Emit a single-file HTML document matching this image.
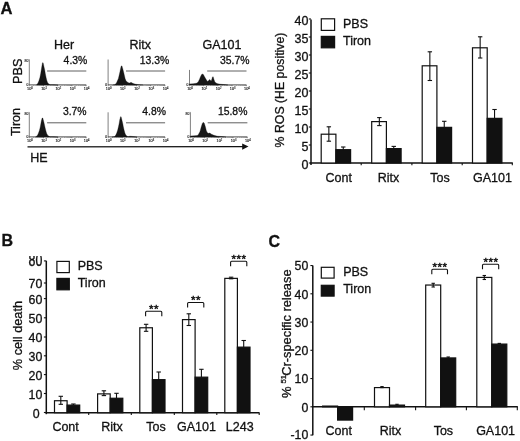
<!DOCTYPE html>
<html lang="en">
<head>
<meta charset="utf-8">
<title>Figure</title>
<style>
html,body{margin:0;padding:0;background:#fff;}
body{width:520px;height:441px;overflow:hidden;}
svg{display:block;will-change:transform;}
svg text{font-family:"Liberation Sans", sans-serif;fill:#111;stroke:#111;stroke-width:0.3px;}
</style>
</head>
<body>
<svg width="520" height="441" viewBox="0 0 520 441">
<rect x="0" y="0" width="520" height="441" fill="#ffffff"/>
<text x="0.4" y="14.1" font-size="16.6" text-anchor="start" font-weight="bold">A</text>
<text x="1.5" y="246" font-size="16" text-anchor="start" font-weight="bold">B</text>
<text x="268.5" y="246.8" font-size="16" text-anchor="start" font-weight="bold">C</text>
<text x="54" y="49" font-size="12.5" text-anchor="start" font-weight="normal">Her</text>
<text x="129.5" y="49" font-size="12.5" text-anchor="start" font-weight="normal">Ritx</text>
<text x="202.5" y="49" font-size="12.5" text-anchor="start" font-weight="normal">GA101</text>
<text x="21.9" y="71.2" font-size="12.7" text-anchor="middle" font-weight="normal" transform="rotate(-90 21.9 71.2)">PBS</text>
<text x="19.9" y="122.0" font-size="12.6" text-anchor="middle" font-weight="normal" transform="rotate(-90 19.9 122.0)">Tiron</text>
<text x="30.3" y="161.8" font-size="12.5" text-anchor="start" font-weight="normal">HE</text>
<line x1="29.3" y1="59.5" x2="29.3" y2="85.0" stroke="#555" stroke-width="0.75"/>
<line x1="29.3" y1="84.9" x2="86.3" y2="84.9" stroke="#2a2a2a" stroke-width="0.85"/>
<line x1="29.3" y1="85.0" x2="29.3" y2="86.2" stroke="#444" stroke-width="0.6"/>
<text x="29.9" y="89.7" font-size="3.8" text-anchor="middle" style="fill:#111;stroke:#111;stroke-width:0.12">10<tspan dy="-1.2" font-size="2.6">0</tspan></text>
<line x1="43.5" y1="85.0" x2="43.5" y2="86.2" stroke="#444" stroke-width="0.6"/>
<text x="44.1" y="89.7" font-size="3.8" text-anchor="middle" style="fill:#111;stroke:#111;stroke-width:0.12">10<tspan dy="-1.2" font-size="2.6">1</tspan></text>
<line x1="57.7" y1="85.0" x2="57.7" y2="86.2" stroke="#444" stroke-width="0.6"/>
<text x="58.3" y="89.7" font-size="3.8" text-anchor="middle" style="fill:#111;stroke:#111;stroke-width:0.12">10<tspan dy="-1.2" font-size="2.6">2</tspan></text>
<line x1="71.9" y1="85.0" x2="71.9" y2="86.2" stroke="#444" stroke-width="0.6"/>
<text x="72.5" y="89.7" font-size="3.8" text-anchor="middle" style="fill:#111;stroke:#111;stroke-width:0.12">10<tspan dy="-1.2" font-size="2.6">3</tspan></text>
<line x1="86.1" y1="85.0" x2="86.1" y2="86.2" stroke="#444" stroke-width="0.6"/>
<text x="86.7" y="89.7" font-size="3.8" text-anchor="middle" style="fill:#111;stroke:#111;stroke-width:0.12">10<tspan dy="-1.2" font-size="2.6">4</tspan></text>
<line x1="33.6" y1="85.0" x2="33.6" y2="85.9" stroke="#555" stroke-width="0.4"/>
<line x1="36.1" y1="85.0" x2="36.1" y2="85.9" stroke="#555" stroke-width="0.4"/>
<line x1="37.8" y1="85.0" x2="37.8" y2="85.9" stroke="#555" stroke-width="0.4"/>
<line x1="39.2" y1="85.0" x2="39.2" y2="85.9" stroke="#555" stroke-width="0.4"/>
<line x1="40.3" y1="85.0" x2="40.3" y2="85.9" stroke="#555" stroke-width="0.4"/>
<line x1="41.3" y1="85.0" x2="41.3" y2="85.9" stroke="#555" stroke-width="0.4"/>
<line x1="42.1" y1="85.0" x2="42.1" y2="85.9" stroke="#555" stroke-width="0.4"/>
<line x1="42.9" y1="85.0" x2="42.9" y2="85.9" stroke="#555" stroke-width="0.4"/>
<line x1="47.8" y1="85.0" x2="47.8" y2="85.9" stroke="#555" stroke-width="0.4"/>
<line x1="50.3" y1="85.0" x2="50.3" y2="85.9" stroke="#555" stroke-width="0.4"/>
<line x1="52.0" y1="85.0" x2="52.0" y2="85.9" stroke="#555" stroke-width="0.4"/>
<line x1="53.4" y1="85.0" x2="53.4" y2="85.9" stroke="#555" stroke-width="0.4"/>
<line x1="54.5" y1="85.0" x2="54.5" y2="85.9" stroke="#555" stroke-width="0.4"/>
<line x1="55.5" y1="85.0" x2="55.5" y2="85.9" stroke="#555" stroke-width="0.4"/>
<line x1="56.3" y1="85.0" x2="56.3" y2="85.9" stroke="#555" stroke-width="0.4"/>
<line x1="57.1" y1="85.0" x2="57.1" y2="85.9" stroke="#555" stroke-width="0.4"/>
<line x1="62.0" y1="85.0" x2="62.0" y2="85.9" stroke="#555" stroke-width="0.4"/>
<line x1="64.5" y1="85.0" x2="64.5" y2="85.9" stroke="#555" stroke-width="0.4"/>
<line x1="66.2" y1="85.0" x2="66.2" y2="85.9" stroke="#555" stroke-width="0.4"/>
<line x1="67.6" y1="85.0" x2="67.6" y2="85.9" stroke="#555" stroke-width="0.4"/>
<line x1="68.7" y1="85.0" x2="68.7" y2="85.9" stroke="#555" stroke-width="0.4"/>
<line x1="69.7" y1="85.0" x2="69.7" y2="85.9" stroke="#555" stroke-width="0.4"/>
<line x1="70.5" y1="85.0" x2="70.5" y2="85.9" stroke="#555" stroke-width="0.4"/>
<line x1="71.3" y1="85.0" x2="71.3" y2="85.9" stroke="#555" stroke-width="0.4"/>
<line x1="76.2" y1="85.0" x2="76.2" y2="85.9" stroke="#555" stroke-width="0.4"/>
<line x1="78.7" y1="85.0" x2="78.7" y2="85.9" stroke="#555" stroke-width="0.4"/>
<line x1="80.4" y1="85.0" x2="80.4" y2="85.9" stroke="#555" stroke-width="0.4"/>
<line x1="81.8" y1="85.0" x2="81.8" y2="85.9" stroke="#555" stroke-width="0.4"/>
<line x1="82.9" y1="85.0" x2="82.9" y2="85.9" stroke="#555" stroke-width="0.4"/>
<line x1="83.9" y1="85.0" x2="83.9" y2="85.9" stroke="#555" stroke-width="0.4"/>
<line x1="84.7" y1="85.0" x2="84.7" y2="85.9" stroke="#555" stroke-width="0.4"/>
<line x1="85.5" y1="85.0" x2="85.5" y2="85.9" stroke="#555" stroke-width="0.4"/>
<text x="28.3" y="62.1" font-size="3.4" text-anchor="end" style="fill:#111;stroke:#111;stroke-width:0.12">80</text>
<text x="28.3" y="86.0" font-size="3.4" text-anchor="end" style="fill:#111;stroke:#111;stroke-width:0.12">0</text>
<line x1="28.5" y1="59.5" x2="29.3" y2="59.5" stroke="#666" stroke-width="0.5"/>
<path d="M36.5 85.0 L36.7 84.7 L37.3 84.0 L38.0 82.9 L38.9 80.8 L39.9 77.5 L40.7 73.5 L41.3 69.8 L41.9 65.9 L42.2 64.3 L42.5 62.8 L43.1 62.8 L43.5 64.3 L43.8 65.9 L44.7 69.8 L45.3 73.5 L46.1 77.5 L46.9 80.8 L47.8 82.9 L48.9 84.0 L50.0 84.7 L54.0 84.7 L58.0 85.0 Z" fill="#161616" stroke="#161616" stroke-width="0.3" stroke-linejoin="round"/>
<line x1="47.1" y1="71.0" x2="86.3" y2="71.0" stroke="#606060" stroke-width="1.0"/>
<text x="87.3" y="63.7" font-size="10.4" text-anchor="end" font-weight="normal">4.3%</text>
<line x1="108.1" y1="59.5" x2="108.1" y2="85.0" stroke="#555" stroke-width="0.75"/>
<line x1="108.1" y1="84.9" x2="165.1" y2="84.9" stroke="#2a2a2a" stroke-width="0.85"/>
<line x1="108.1" y1="85.0" x2="108.1" y2="86.2" stroke="#444" stroke-width="0.6"/>
<text x="108.7" y="89.7" font-size="3.8" text-anchor="middle" style="fill:#111;stroke:#111;stroke-width:0.12">10<tspan dy="-1.2" font-size="2.6">0</tspan></text>
<line x1="122.3" y1="85.0" x2="122.3" y2="86.2" stroke="#444" stroke-width="0.6"/>
<text x="122.9" y="89.7" font-size="3.8" text-anchor="middle" style="fill:#111;stroke:#111;stroke-width:0.12">10<tspan dy="-1.2" font-size="2.6">1</tspan></text>
<line x1="136.5" y1="85.0" x2="136.5" y2="86.2" stroke="#444" stroke-width="0.6"/>
<text x="137.1" y="89.7" font-size="3.8" text-anchor="middle" style="fill:#111;stroke:#111;stroke-width:0.12">10<tspan dy="-1.2" font-size="2.6">2</tspan></text>
<line x1="150.7" y1="85.0" x2="150.7" y2="86.2" stroke="#444" stroke-width="0.6"/>
<text x="151.3" y="89.7" font-size="3.8" text-anchor="middle" style="fill:#111;stroke:#111;stroke-width:0.12">10<tspan dy="-1.2" font-size="2.6">3</tspan></text>
<line x1="164.9" y1="85.0" x2="164.9" y2="86.2" stroke="#444" stroke-width="0.6"/>
<text x="165.5" y="89.7" font-size="3.8" text-anchor="middle" style="fill:#111;stroke:#111;stroke-width:0.12">10<tspan dy="-1.2" font-size="2.6">4</tspan></text>
<line x1="112.4" y1="85.0" x2="112.4" y2="85.9" stroke="#555" stroke-width="0.4"/>
<line x1="114.9" y1="85.0" x2="114.9" y2="85.9" stroke="#555" stroke-width="0.4"/>
<line x1="116.6" y1="85.0" x2="116.6" y2="85.9" stroke="#555" stroke-width="0.4"/>
<line x1="118.0" y1="85.0" x2="118.0" y2="85.9" stroke="#555" stroke-width="0.4"/>
<line x1="119.1" y1="85.0" x2="119.1" y2="85.9" stroke="#555" stroke-width="0.4"/>
<line x1="120.1" y1="85.0" x2="120.1" y2="85.9" stroke="#555" stroke-width="0.4"/>
<line x1="120.9" y1="85.0" x2="120.9" y2="85.9" stroke="#555" stroke-width="0.4"/>
<line x1="121.7" y1="85.0" x2="121.7" y2="85.9" stroke="#555" stroke-width="0.4"/>
<line x1="126.6" y1="85.0" x2="126.6" y2="85.9" stroke="#555" stroke-width="0.4"/>
<line x1="129.1" y1="85.0" x2="129.1" y2="85.9" stroke="#555" stroke-width="0.4"/>
<line x1="130.8" y1="85.0" x2="130.8" y2="85.9" stroke="#555" stroke-width="0.4"/>
<line x1="132.2" y1="85.0" x2="132.2" y2="85.9" stroke="#555" stroke-width="0.4"/>
<line x1="133.3" y1="85.0" x2="133.3" y2="85.9" stroke="#555" stroke-width="0.4"/>
<line x1="134.3" y1="85.0" x2="134.3" y2="85.9" stroke="#555" stroke-width="0.4"/>
<line x1="135.1" y1="85.0" x2="135.1" y2="85.9" stroke="#555" stroke-width="0.4"/>
<line x1="135.9" y1="85.0" x2="135.9" y2="85.9" stroke="#555" stroke-width="0.4"/>
<line x1="140.8" y1="85.0" x2="140.8" y2="85.9" stroke="#555" stroke-width="0.4"/>
<line x1="143.3" y1="85.0" x2="143.3" y2="85.9" stroke="#555" stroke-width="0.4"/>
<line x1="145.0" y1="85.0" x2="145.0" y2="85.9" stroke="#555" stroke-width="0.4"/>
<line x1="146.4" y1="85.0" x2="146.4" y2="85.9" stroke="#555" stroke-width="0.4"/>
<line x1="147.5" y1="85.0" x2="147.5" y2="85.9" stroke="#555" stroke-width="0.4"/>
<line x1="148.5" y1="85.0" x2="148.5" y2="85.9" stroke="#555" stroke-width="0.4"/>
<line x1="149.3" y1="85.0" x2="149.3" y2="85.9" stroke="#555" stroke-width="0.4"/>
<line x1="150.1" y1="85.0" x2="150.1" y2="85.9" stroke="#555" stroke-width="0.4"/>
<line x1="155.0" y1="85.0" x2="155.0" y2="85.9" stroke="#555" stroke-width="0.4"/>
<line x1="157.5" y1="85.0" x2="157.5" y2="85.9" stroke="#555" stroke-width="0.4"/>
<line x1="159.2" y1="85.0" x2="159.2" y2="85.9" stroke="#555" stroke-width="0.4"/>
<line x1="160.6" y1="85.0" x2="160.6" y2="85.9" stroke="#555" stroke-width="0.4"/>
<line x1="161.7" y1="85.0" x2="161.7" y2="85.9" stroke="#555" stroke-width="0.4"/>
<line x1="162.7" y1="85.0" x2="162.7" y2="85.9" stroke="#555" stroke-width="0.4"/>
<line x1="163.5" y1="85.0" x2="163.5" y2="85.9" stroke="#555" stroke-width="0.4"/>
<line x1="164.3" y1="85.0" x2="164.3" y2="85.9" stroke="#555" stroke-width="0.4"/>
<text x="107.1" y="86.0" font-size="3.4" text-anchor="end" style="fill:#111;stroke:#111;stroke-width:0.12">0</text>
<path d="M113.0 85.0 L114.8 84.7 L115.4 84.1 L116.3 83.2 L117.2 81.3 L118.4 78.5 L119.2 75.1 L119.9 71.9 L120.6 68.5 L120.9 67.2 L121.3 65.9 L122.0 65.9 L122.3 67.2 L122.7 68.5 L123.6 71.9 L124.3 75.1 L125.1 78.5 L126.0 80.8 L127.2 82.0 L128.5 82.7 L129.8 83.0 L131.0 82.3 L132.2 83.0 L134.0 83.8 L136.0 84.3 L139.0 84.7 L143.0 85.0 Z" fill="#161616" stroke="#161616" stroke-width="0.3" stroke-linejoin="round"/>
<line x1="126" y1="71.0" x2="165.1" y2="71.0" stroke="#606060" stroke-width="1.0"/>
<text x="169.2" y="63.7" font-size="10.4" text-anchor="end" font-weight="normal">13.3%</text>
<line x1="189.5" y1="69.9" x2="189.5" y2="85.0" stroke="#555" stroke-width="0.75"/>
<line x1="189.5" y1="84.9" x2="246.5" y2="84.9" stroke="#2a2a2a" stroke-width="0.85"/>
<line x1="189.5" y1="85.0" x2="189.5" y2="86.2" stroke="#444" stroke-width="0.6"/>
<text x="190.1" y="89.7" font-size="3.8" text-anchor="middle" style="fill:#111;stroke:#111;stroke-width:0.12">10<tspan dy="-1.2" font-size="2.6">0</tspan></text>
<line x1="203.7" y1="85.0" x2="203.7" y2="86.2" stroke="#444" stroke-width="0.6"/>
<text x="204.3" y="89.7" font-size="3.8" text-anchor="middle" style="fill:#111;stroke:#111;stroke-width:0.12">10<tspan dy="-1.2" font-size="2.6">1</tspan></text>
<line x1="217.9" y1="85.0" x2="217.9" y2="86.2" stroke="#444" stroke-width="0.6"/>
<text x="218.5" y="89.7" font-size="3.8" text-anchor="middle" style="fill:#111;stroke:#111;stroke-width:0.12">10<tspan dy="-1.2" font-size="2.6">2</tspan></text>
<line x1="232.1" y1="85.0" x2="232.1" y2="86.2" stroke="#444" stroke-width="0.6"/>
<text x="232.7" y="89.7" font-size="3.8" text-anchor="middle" style="fill:#111;stroke:#111;stroke-width:0.12">10<tspan dy="-1.2" font-size="2.6">3</tspan></text>
<line x1="246.3" y1="85.0" x2="246.3" y2="86.2" stroke="#444" stroke-width="0.6"/>
<text x="246.9" y="89.7" font-size="3.8" text-anchor="middle" style="fill:#111;stroke:#111;stroke-width:0.12">10<tspan dy="-1.2" font-size="2.6">4</tspan></text>
<line x1="193.8" y1="85.0" x2="193.8" y2="85.9" stroke="#555" stroke-width="0.4"/>
<line x1="196.3" y1="85.0" x2="196.3" y2="85.9" stroke="#555" stroke-width="0.4"/>
<line x1="198.0" y1="85.0" x2="198.0" y2="85.9" stroke="#555" stroke-width="0.4"/>
<line x1="199.4" y1="85.0" x2="199.4" y2="85.9" stroke="#555" stroke-width="0.4"/>
<line x1="200.5" y1="85.0" x2="200.5" y2="85.9" stroke="#555" stroke-width="0.4"/>
<line x1="201.5" y1="85.0" x2="201.5" y2="85.9" stroke="#555" stroke-width="0.4"/>
<line x1="202.3" y1="85.0" x2="202.3" y2="85.9" stroke="#555" stroke-width="0.4"/>
<line x1="203.1" y1="85.0" x2="203.1" y2="85.9" stroke="#555" stroke-width="0.4"/>
<line x1="208.0" y1="85.0" x2="208.0" y2="85.9" stroke="#555" stroke-width="0.4"/>
<line x1="210.5" y1="85.0" x2="210.5" y2="85.9" stroke="#555" stroke-width="0.4"/>
<line x1="212.2" y1="85.0" x2="212.2" y2="85.9" stroke="#555" stroke-width="0.4"/>
<line x1="213.6" y1="85.0" x2="213.6" y2="85.9" stroke="#555" stroke-width="0.4"/>
<line x1="214.7" y1="85.0" x2="214.7" y2="85.9" stroke="#555" stroke-width="0.4"/>
<line x1="215.7" y1="85.0" x2="215.7" y2="85.9" stroke="#555" stroke-width="0.4"/>
<line x1="216.5" y1="85.0" x2="216.5" y2="85.9" stroke="#555" stroke-width="0.4"/>
<line x1="217.3" y1="85.0" x2="217.3" y2="85.9" stroke="#555" stroke-width="0.4"/>
<line x1="222.2" y1="85.0" x2="222.2" y2="85.9" stroke="#555" stroke-width="0.4"/>
<line x1="224.7" y1="85.0" x2="224.7" y2="85.9" stroke="#555" stroke-width="0.4"/>
<line x1="226.4" y1="85.0" x2="226.4" y2="85.9" stroke="#555" stroke-width="0.4"/>
<line x1="227.8" y1="85.0" x2="227.8" y2="85.9" stroke="#555" stroke-width="0.4"/>
<line x1="228.9" y1="85.0" x2="228.9" y2="85.9" stroke="#555" stroke-width="0.4"/>
<line x1="229.9" y1="85.0" x2="229.9" y2="85.9" stroke="#555" stroke-width="0.4"/>
<line x1="230.7" y1="85.0" x2="230.7" y2="85.9" stroke="#555" stroke-width="0.4"/>
<line x1="231.5" y1="85.0" x2="231.5" y2="85.9" stroke="#555" stroke-width="0.4"/>
<line x1="236.4" y1="85.0" x2="236.4" y2="85.9" stroke="#555" stroke-width="0.4"/>
<line x1="238.9" y1="85.0" x2="238.9" y2="85.9" stroke="#555" stroke-width="0.4"/>
<line x1="240.6" y1="85.0" x2="240.6" y2="85.9" stroke="#555" stroke-width="0.4"/>
<line x1="242.0" y1="85.0" x2="242.0" y2="85.9" stroke="#555" stroke-width="0.4"/>
<line x1="243.1" y1="85.0" x2="243.1" y2="85.9" stroke="#555" stroke-width="0.4"/>
<line x1="244.1" y1="85.0" x2="244.1" y2="85.9" stroke="#555" stroke-width="0.4"/>
<line x1="244.9" y1="85.0" x2="244.9" y2="85.9" stroke="#555" stroke-width="0.4"/>
<line x1="245.7" y1="85.0" x2="245.7" y2="85.9" stroke="#555" stroke-width="0.4"/>
<text x="188.5" y="86.0" font-size="3.4" text-anchor="end" style="fill:#111;stroke:#111;stroke-width:0.12">0</text>
<path d="M189.5 85.0 L189.5 83.9 L193.0 83.7 L196.3 83.3 L198.0 82.2 L199.4 79.5 L200.6 76.4 L201.6 74.5 L202.5 74.0 L203.4 74.6 L204.4 76.4 L205.6 78.6 L206.8 80.6 L207.8 81.5 L208.8 80.3 L209.8 79.4 L210.6 80.4 L211.2 81.0 L211.9 79.0 L212.5 76.9 L213.2 76.8 L213.9 79.3 L214.8 81.8 L216.0 83.0 L217.8 83.7 L220.5 84.2 L224.0 84.6 L228.0 85.0 Z" fill="#161616" stroke="#161616" stroke-width="0.3" stroke-linejoin="round"/>
<line x1="207.2" y1="71.0" x2="246.5" y2="71.0" stroke="#606060" stroke-width="1.0"/>
<text x="249.5" y="63.7" font-size="10.4" text-anchor="end" font-weight="normal">35.7%</text>
<line x1="29.3" y1="112.3" x2="29.3" y2="137.0" stroke="#555" stroke-width="0.75"/>
<line x1="29.3" y1="136.9" x2="86.3" y2="136.9" stroke="#2a2a2a" stroke-width="0.85"/>
<line x1="29.3" y1="137.0" x2="29.3" y2="138.2" stroke="#444" stroke-width="0.6"/>
<text x="29.9" y="141.7" font-size="3.8" text-anchor="middle" style="fill:#111;stroke:#111;stroke-width:0.12">10<tspan dy="-1.2" font-size="2.6">0</tspan></text>
<line x1="43.5" y1="137.0" x2="43.5" y2="138.2" stroke="#444" stroke-width="0.6"/>
<text x="44.1" y="141.7" font-size="3.8" text-anchor="middle" style="fill:#111;stroke:#111;stroke-width:0.12">10<tspan dy="-1.2" font-size="2.6">1</tspan></text>
<line x1="57.7" y1="137.0" x2="57.7" y2="138.2" stroke="#444" stroke-width="0.6"/>
<text x="58.3" y="141.7" font-size="3.8" text-anchor="middle" style="fill:#111;stroke:#111;stroke-width:0.12">10<tspan dy="-1.2" font-size="2.6">2</tspan></text>
<line x1="71.9" y1="137.0" x2="71.9" y2="138.2" stroke="#444" stroke-width="0.6"/>
<text x="72.5" y="141.7" font-size="3.8" text-anchor="middle" style="fill:#111;stroke:#111;stroke-width:0.12">10<tspan dy="-1.2" font-size="2.6">3</tspan></text>
<line x1="86.1" y1="137.0" x2="86.1" y2="138.2" stroke="#444" stroke-width="0.6"/>
<text x="86.7" y="141.7" font-size="3.8" text-anchor="middle" style="fill:#111;stroke:#111;stroke-width:0.12">10<tspan dy="-1.2" font-size="2.6">4</tspan></text>
<line x1="33.6" y1="137.0" x2="33.6" y2="137.9" stroke="#555" stroke-width="0.4"/>
<line x1="36.1" y1="137.0" x2="36.1" y2="137.9" stroke="#555" stroke-width="0.4"/>
<line x1="37.8" y1="137.0" x2="37.8" y2="137.9" stroke="#555" stroke-width="0.4"/>
<line x1="39.2" y1="137.0" x2="39.2" y2="137.9" stroke="#555" stroke-width="0.4"/>
<line x1="40.3" y1="137.0" x2="40.3" y2="137.9" stroke="#555" stroke-width="0.4"/>
<line x1="41.3" y1="137.0" x2="41.3" y2="137.9" stroke="#555" stroke-width="0.4"/>
<line x1="42.1" y1="137.0" x2="42.1" y2="137.9" stroke="#555" stroke-width="0.4"/>
<line x1="42.9" y1="137.0" x2="42.9" y2="137.9" stroke="#555" stroke-width="0.4"/>
<line x1="47.8" y1="137.0" x2="47.8" y2="137.9" stroke="#555" stroke-width="0.4"/>
<line x1="50.3" y1="137.0" x2="50.3" y2="137.9" stroke="#555" stroke-width="0.4"/>
<line x1="52.0" y1="137.0" x2="52.0" y2="137.9" stroke="#555" stroke-width="0.4"/>
<line x1="53.4" y1="137.0" x2="53.4" y2="137.9" stroke="#555" stroke-width="0.4"/>
<line x1="54.5" y1="137.0" x2="54.5" y2="137.9" stroke="#555" stroke-width="0.4"/>
<line x1="55.5" y1="137.0" x2="55.5" y2="137.9" stroke="#555" stroke-width="0.4"/>
<line x1="56.3" y1="137.0" x2="56.3" y2="137.9" stroke="#555" stroke-width="0.4"/>
<line x1="57.1" y1="137.0" x2="57.1" y2="137.9" stroke="#555" stroke-width="0.4"/>
<line x1="62.0" y1="137.0" x2="62.0" y2="137.9" stroke="#555" stroke-width="0.4"/>
<line x1="64.5" y1="137.0" x2="64.5" y2="137.9" stroke="#555" stroke-width="0.4"/>
<line x1="66.2" y1="137.0" x2="66.2" y2="137.9" stroke="#555" stroke-width="0.4"/>
<line x1="67.6" y1="137.0" x2="67.6" y2="137.9" stroke="#555" stroke-width="0.4"/>
<line x1="68.7" y1="137.0" x2="68.7" y2="137.9" stroke="#555" stroke-width="0.4"/>
<line x1="69.7" y1="137.0" x2="69.7" y2="137.9" stroke="#555" stroke-width="0.4"/>
<line x1="70.5" y1="137.0" x2="70.5" y2="137.9" stroke="#555" stroke-width="0.4"/>
<line x1="71.3" y1="137.0" x2="71.3" y2="137.9" stroke="#555" stroke-width="0.4"/>
<line x1="76.2" y1="137.0" x2="76.2" y2="137.9" stroke="#555" stroke-width="0.4"/>
<line x1="78.7" y1="137.0" x2="78.7" y2="137.9" stroke="#555" stroke-width="0.4"/>
<line x1="80.4" y1="137.0" x2="80.4" y2="137.9" stroke="#555" stroke-width="0.4"/>
<line x1="81.8" y1="137.0" x2="81.8" y2="137.9" stroke="#555" stroke-width="0.4"/>
<line x1="82.9" y1="137.0" x2="82.9" y2="137.9" stroke="#555" stroke-width="0.4"/>
<line x1="83.9" y1="137.0" x2="83.9" y2="137.9" stroke="#555" stroke-width="0.4"/>
<line x1="84.7" y1="137.0" x2="84.7" y2="137.9" stroke="#555" stroke-width="0.4"/>
<line x1="85.5" y1="137.0" x2="85.5" y2="137.9" stroke="#555" stroke-width="0.4"/>
<text x="28.3" y="114.9" font-size="3.4" text-anchor="end" style="fill:#111;stroke:#111;stroke-width:0.12">80</text>
<text x="28.3" y="138.0" font-size="3.4" text-anchor="end" style="fill:#111;stroke:#111;stroke-width:0.12">0</text>
<line x1="28.5" y1="112.3" x2="29.3" y2="112.3" stroke="#666" stroke-width="0.5"/>
<path d="M35.5 137.0 L36.1 136.7 L36.7 136.1 L37.5 135.2 L38.4 133.3 L39.4 130.5 L40.2 127.2 L40.8 124.0 L41.4 120.6 L41.8 119.3 L42.1 118.0 L42.8 118.0 L43.1 119.3 L43.5 120.6 L44.3 124.0 L45.0 127.2 L45.8 130.5 L46.6 133.3 L47.6 135.2 L48.7 136.1 L49.9 136.7 L54.0 136.7 L58.0 137.0 Z" fill="#161616" stroke="#161616" stroke-width="0.3" stroke-linejoin="round"/>
<line x1="47.1" y1="122.8" x2="86.3" y2="122.8" stroke="#606060" stroke-width="1.0"/>
<text x="86.6" y="115.4" font-size="10.4" text-anchor="end" font-weight="normal">3.7%</text>
<line x1="108.1" y1="112.3" x2="108.1" y2="137.0" stroke="#555" stroke-width="0.75"/>
<line x1="108.1" y1="136.9" x2="165.1" y2="136.9" stroke="#2a2a2a" stroke-width="0.85"/>
<line x1="108.1" y1="137.0" x2="108.1" y2="138.2" stroke="#444" stroke-width="0.6"/>
<text x="108.7" y="141.7" font-size="3.8" text-anchor="middle" style="fill:#111;stroke:#111;stroke-width:0.12">10<tspan dy="-1.2" font-size="2.6">0</tspan></text>
<line x1="122.3" y1="137.0" x2="122.3" y2="138.2" stroke="#444" stroke-width="0.6"/>
<text x="122.9" y="141.7" font-size="3.8" text-anchor="middle" style="fill:#111;stroke:#111;stroke-width:0.12">10<tspan dy="-1.2" font-size="2.6">1</tspan></text>
<line x1="136.5" y1="137.0" x2="136.5" y2="138.2" stroke="#444" stroke-width="0.6"/>
<text x="137.1" y="141.7" font-size="3.8" text-anchor="middle" style="fill:#111;stroke:#111;stroke-width:0.12">10<tspan dy="-1.2" font-size="2.6">2</tspan></text>
<line x1="150.7" y1="137.0" x2="150.7" y2="138.2" stroke="#444" stroke-width="0.6"/>
<text x="151.3" y="141.7" font-size="3.8" text-anchor="middle" style="fill:#111;stroke:#111;stroke-width:0.12">10<tspan dy="-1.2" font-size="2.6">3</tspan></text>
<line x1="164.9" y1="137.0" x2="164.9" y2="138.2" stroke="#444" stroke-width="0.6"/>
<text x="165.5" y="141.7" font-size="3.8" text-anchor="middle" style="fill:#111;stroke:#111;stroke-width:0.12">10<tspan dy="-1.2" font-size="2.6">4</tspan></text>
<line x1="112.4" y1="137.0" x2="112.4" y2="137.9" stroke="#555" stroke-width="0.4"/>
<line x1="114.9" y1="137.0" x2="114.9" y2="137.9" stroke="#555" stroke-width="0.4"/>
<line x1="116.6" y1="137.0" x2="116.6" y2="137.9" stroke="#555" stroke-width="0.4"/>
<line x1="118.0" y1="137.0" x2="118.0" y2="137.9" stroke="#555" stroke-width="0.4"/>
<line x1="119.1" y1="137.0" x2="119.1" y2="137.9" stroke="#555" stroke-width="0.4"/>
<line x1="120.1" y1="137.0" x2="120.1" y2="137.9" stroke="#555" stroke-width="0.4"/>
<line x1="120.9" y1="137.0" x2="120.9" y2="137.9" stroke="#555" stroke-width="0.4"/>
<line x1="121.7" y1="137.0" x2="121.7" y2="137.9" stroke="#555" stroke-width="0.4"/>
<line x1="126.6" y1="137.0" x2="126.6" y2="137.9" stroke="#555" stroke-width="0.4"/>
<line x1="129.1" y1="137.0" x2="129.1" y2="137.9" stroke="#555" stroke-width="0.4"/>
<line x1="130.8" y1="137.0" x2="130.8" y2="137.9" stroke="#555" stroke-width="0.4"/>
<line x1="132.2" y1="137.0" x2="132.2" y2="137.9" stroke="#555" stroke-width="0.4"/>
<line x1="133.3" y1="137.0" x2="133.3" y2="137.9" stroke="#555" stroke-width="0.4"/>
<line x1="134.3" y1="137.0" x2="134.3" y2="137.9" stroke="#555" stroke-width="0.4"/>
<line x1="135.1" y1="137.0" x2="135.1" y2="137.9" stroke="#555" stroke-width="0.4"/>
<line x1="135.9" y1="137.0" x2="135.9" y2="137.9" stroke="#555" stroke-width="0.4"/>
<line x1="140.8" y1="137.0" x2="140.8" y2="137.9" stroke="#555" stroke-width="0.4"/>
<line x1="143.3" y1="137.0" x2="143.3" y2="137.9" stroke="#555" stroke-width="0.4"/>
<line x1="145.0" y1="137.0" x2="145.0" y2="137.9" stroke="#555" stroke-width="0.4"/>
<line x1="146.4" y1="137.0" x2="146.4" y2="137.9" stroke="#555" stroke-width="0.4"/>
<line x1="147.5" y1="137.0" x2="147.5" y2="137.9" stroke="#555" stroke-width="0.4"/>
<line x1="148.5" y1="137.0" x2="148.5" y2="137.9" stroke="#555" stroke-width="0.4"/>
<line x1="149.3" y1="137.0" x2="149.3" y2="137.9" stroke="#555" stroke-width="0.4"/>
<line x1="150.1" y1="137.0" x2="150.1" y2="137.9" stroke="#555" stroke-width="0.4"/>
<line x1="155.0" y1="137.0" x2="155.0" y2="137.9" stroke="#555" stroke-width="0.4"/>
<line x1="157.5" y1="137.0" x2="157.5" y2="137.9" stroke="#555" stroke-width="0.4"/>
<line x1="159.2" y1="137.0" x2="159.2" y2="137.9" stroke="#555" stroke-width="0.4"/>
<line x1="160.6" y1="137.0" x2="160.6" y2="137.9" stroke="#555" stroke-width="0.4"/>
<line x1="161.7" y1="137.0" x2="161.7" y2="137.9" stroke="#555" stroke-width="0.4"/>
<line x1="162.7" y1="137.0" x2="162.7" y2="137.9" stroke="#555" stroke-width="0.4"/>
<line x1="163.5" y1="137.0" x2="163.5" y2="137.9" stroke="#555" stroke-width="0.4"/>
<line x1="164.3" y1="137.0" x2="164.3" y2="137.9" stroke="#555" stroke-width="0.4"/>
<text x="107.1" y="138.0" font-size="3.4" text-anchor="end" style="fill:#111;stroke:#111;stroke-width:0.12">0</text>
<path d="M112.0 137.0 L114.3 136.7 L115.0 136.1 L115.8 135.1 L116.7 133.1 L117.7 130.1 L118.5 126.6 L119.2 123.2 L119.8 119.6 L120.2 118.2 L120.5 116.8 L121.1 116.8 L121.5 118.2 L121.8 119.6 L122.7 123.2 L123.3 126.6 L124.1 130.1 L124.9 133.1 L125.8 135.1 L126.9 136.1 L128.0 136.7 L130.0 136.2 L133.0 136.5 L137.0 137.0 Z" fill="#161616" stroke="#161616" stroke-width="0.3" stroke-linejoin="round"/>
<line x1="126" y1="122.8" x2="165.1" y2="122.8" stroke="#606060" stroke-width="1.0"/>
<text x="166" y="115.4" font-size="10.4" text-anchor="end" font-weight="normal">4.8%</text>
<line x1="190.4" y1="112.3" x2="190.4" y2="137.0" stroke="#555" stroke-width="0.75"/>
<line x1="190.4" y1="136.9" x2="247.4" y2="136.9" stroke="#2a2a2a" stroke-width="0.85"/>
<line x1="190.4" y1="137.0" x2="190.4" y2="138.2" stroke="#444" stroke-width="0.6"/>
<text x="191.0" y="141.7" font-size="3.8" text-anchor="middle" style="fill:#111;stroke:#111;stroke-width:0.12">10<tspan dy="-1.2" font-size="2.6">0</tspan></text>
<line x1="204.6" y1="137.0" x2="204.6" y2="138.2" stroke="#444" stroke-width="0.6"/>
<text x="205.2" y="141.7" font-size="3.8" text-anchor="middle" style="fill:#111;stroke:#111;stroke-width:0.12">10<tspan dy="-1.2" font-size="2.6">1</tspan></text>
<line x1="218.8" y1="137.0" x2="218.8" y2="138.2" stroke="#444" stroke-width="0.6"/>
<text x="219.4" y="141.7" font-size="3.8" text-anchor="middle" style="fill:#111;stroke:#111;stroke-width:0.12">10<tspan dy="-1.2" font-size="2.6">2</tspan></text>
<line x1="233.0" y1="137.0" x2="233.0" y2="138.2" stroke="#444" stroke-width="0.6"/>
<text x="233.6" y="141.7" font-size="3.8" text-anchor="middle" style="fill:#111;stroke:#111;stroke-width:0.12">10<tspan dy="-1.2" font-size="2.6">3</tspan></text>
<line x1="247.2" y1="137.0" x2="247.2" y2="138.2" stroke="#444" stroke-width="0.6"/>
<text x="247.8" y="141.7" font-size="3.8" text-anchor="middle" style="fill:#111;stroke:#111;stroke-width:0.12">10<tspan dy="-1.2" font-size="2.6">4</tspan></text>
<line x1="194.7" y1="137.0" x2="194.7" y2="137.9" stroke="#555" stroke-width="0.4"/>
<line x1="197.2" y1="137.0" x2="197.2" y2="137.9" stroke="#555" stroke-width="0.4"/>
<line x1="198.9" y1="137.0" x2="198.9" y2="137.9" stroke="#555" stroke-width="0.4"/>
<line x1="200.3" y1="137.0" x2="200.3" y2="137.9" stroke="#555" stroke-width="0.4"/>
<line x1="201.4" y1="137.0" x2="201.4" y2="137.9" stroke="#555" stroke-width="0.4"/>
<line x1="202.4" y1="137.0" x2="202.4" y2="137.9" stroke="#555" stroke-width="0.4"/>
<line x1="203.2" y1="137.0" x2="203.2" y2="137.9" stroke="#555" stroke-width="0.4"/>
<line x1="204.0" y1="137.0" x2="204.0" y2="137.9" stroke="#555" stroke-width="0.4"/>
<line x1="208.9" y1="137.0" x2="208.9" y2="137.9" stroke="#555" stroke-width="0.4"/>
<line x1="211.4" y1="137.0" x2="211.4" y2="137.9" stroke="#555" stroke-width="0.4"/>
<line x1="213.1" y1="137.0" x2="213.1" y2="137.9" stroke="#555" stroke-width="0.4"/>
<line x1="214.5" y1="137.0" x2="214.5" y2="137.9" stroke="#555" stroke-width="0.4"/>
<line x1="215.6" y1="137.0" x2="215.6" y2="137.9" stroke="#555" stroke-width="0.4"/>
<line x1="216.6" y1="137.0" x2="216.6" y2="137.9" stroke="#555" stroke-width="0.4"/>
<line x1="217.4" y1="137.0" x2="217.4" y2="137.9" stroke="#555" stroke-width="0.4"/>
<line x1="218.2" y1="137.0" x2="218.2" y2="137.9" stroke="#555" stroke-width="0.4"/>
<line x1="223.1" y1="137.0" x2="223.1" y2="137.9" stroke="#555" stroke-width="0.4"/>
<line x1="225.6" y1="137.0" x2="225.6" y2="137.9" stroke="#555" stroke-width="0.4"/>
<line x1="227.3" y1="137.0" x2="227.3" y2="137.9" stroke="#555" stroke-width="0.4"/>
<line x1="228.7" y1="137.0" x2="228.7" y2="137.9" stroke="#555" stroke-width="0.4"/>
<line x1="229.8" y1="137.0" x2="229.8" y2="137.9" stroke="#555" stroke-width="0.4"/>
<line x1="230.8" y1="137.0" x2="230.8" y2="137.9" stroke="#555" stroke-width="0.4"/>
<line x1="231.6" y1="137.0" x2="231.6" y2="137.9" stroke="#555" stroke-width="0.4"/>
<line x1="232.4" y1="137.0" x2="232.4" y2="137.9" stroke="#555" stroke-width="0.4"/>
<line x1="237.3" y1="137.0" x2="237.3" y2="137.9" stroke="#555" stroke-width="0.4"/>
<line x1="239.8" y1="137.0" x2="239.8" y2="137.9" stroke="#555" stroke-width="0.4"/>
<line x1="241.5" y1="137.0" x2="241.5" y2="137.9" stroke="#555" stroke-width="0.4"/>
<line x1="242.9" y1="137.0" x2="242.9" y2="137.9" stroke="#555" stroke-width="0.4"/>
<line x1="244.0" y1="137.0" x2="244.0" y2="137.9" stroke="#555" stroke-width="0.4"/>
<line x1="245.0" y1="137.0" x2="245.0" y2="137.9" stroke="#555" stroke-width="0.4"/>
<line x1="245.8" y1="137.0" x2="245.8" y2="137.9" stroke="#555" stroke-width="0.4"/>
<line x1="246.6" y1="137.0" x2="246.6" y2="137.9" stroke="#555" stroke-width="0.4"/>
<text x="189.4" y="114.9" font-size="3.4" text-anchor="end" style="fill:#111;stroke:#111;stroke-width:0.12">80</text>
<text x="189.4" y="138.0" font-size="3.4" text-anchor="end" style="fill:#111;stroke:#111;stroke-width:0.12">0</text>
<line x1="189.6" y1="112.3" x2="190.4" y2="112.3" stroke="#666" stroke-width="0.5"/>
<path d="M190.4 137.0 L190.4 136.0 L194.0 135.8 L197.3 135.4 L198.6 134.2 L200.0 131.4 L201.2 127.0 L202.3 123.4 L203.3 122.2 L204.3 123.2 L205.4 126.8 L206.3 130.4 L207.2 132.4 L208.3 133.3 L209.8 133.0 L211.5 134.2 L214.0 135.3 L217.5 136.2 L222.0 136.6 L226.0 137.0 Z" fill="#161616" stroke="#161616" stroke-width="0.3" stroke-linejoin="round"/>
<line x1="207.7" y1="122.8" x2="247.4" y2="122.8" stroke="#606060" stroke-width="1.0"/>
<text x="247.4" y="115.4" font-size="10.4" text-anchor="end" font-weight="normal">15.8%</text>
<line x1="27.5" y1="146.9" x2="243.5" y2="146.5" stroke="#111" stroke-width="1.25"/>
<path d="M242.2 143.5 L248.5 146.6 L242.2 149.7 Z" fill="#111"/>
<line x1="311" y1="19.5" x2="311" y2="165" stroke="#111" stroke-width="1.5"/>
<line x1="310.3" y1="163" x2="512.8" y2="163" stroke="#111" stroke-width="1.5"/>
<line x1="308.8" y1="163.0" x2="311" y2="163.0" stroke="#111" stroke-width="1.1"/>
<text x="308.4" y="168.7" font-size="12.5" text-anchor="end" font-weight="normal">0</text>
<line x1="308.8" y1="145.0" x2="311" y2="145.0" stroke="#111" stroke-width="1.1"/>
<text x="308.4" y="150.7" font-size="12.5" text-anchor="end" font-weight="normal">5</text>
<line x1="308.8" y1="127.0" x2="311" y2="127.0" stroke="#111" stroke-width="1.1"/>
<text x="308.4" y="132.7" font-size="12.5" text-anchor="end" font-weight="normal">10</text>
<line x1="308.8" y1="109.0" x2="311" y2="109.0" stroke="#111" stroke-width="1.1"/>
<text x="308.4" y="114.7" font-size="12.5" text-anchor="end" font-weight="normal">15</text>
<line x1="308.8" y1="91.0" x2="311" y2="91.0" stroke="#111" stroke-width="1.1"/>
<text x="308.4" y="96.7" font-size="12.5" text-anchor="end" font-weight="normal">20</text>
<line x1="308.8" y1="73.0" x2="311" y2="73.0" stroke="#111" stroke-width="1.1"/>
<text x="308.4" y="78.7" font-size="12.5" text-anchor="end" font-weight="normal">25</text>
<line x1="308.8" y1="55.0" x2="311" y2="55.0" stroke="#111" stroke-width="1.1"/>
<text x="308.4" y="60.7" font-size="12.5" text-anchor="end" font-weight="normal">30</text>
<line x1="308.8" y1="37.0" x2="311" y2="37.0" stroke="#111" stroke-width="1.1"/>
<text x="308.4" y="42.7" font-size="12.5" text-anchor="end" font-weight="normal">35</text>
<line x1="308.8" y1="19.0" x2="311" y2="19.0" stroke="#111" stroke-width="1.1"/>
<text x="308.4" y="24.7" font-size="12.5" text-anchor="end" font-weight="normal">40</text>
<line x1="361.2" y1="163" x2="361.2" y2="165.2" stroke="#111" stroke-width="1.1"/>
<line x1="411.9" y1="163" x2="411.9" y2="165.2" stroke="#111" stroke-width="1.1"/>
<line x1="462.2" y1="163" x2="462.2" y2="165.2" stroke="#111" stroke-width="1.1"/>
<line x1="512.3" y1="163" x2="512.3" y2="165.2" stroke="#111" stroke-width="1.1"/>
<text x="284.4" y="90.0" font-size="12.3" text-anchor="middle" font-weight="normal" transform="rotate(-90 284.4 90.0)">% ROS (HE positive)</text>
<rect x="321.30" y="18.80" width="13.30" height="11.60" fill="#fff" stroke="#111" stroke-width="1.2"/>
<rect x="321.30" y="36.40" width="13.30" height="11.40" fill="#111" stroke="#111" stroke-width="1.2"/>
<text x="343" y="28.2" font-size="12.5" text-anchor="start" font-weight="normal">PBS</text>
<text x="343" y="45.2" font-size="12.5" text-anchor="start" font-weight="normal">Tiron</text>
<rect x="321.20" y="134.20" width="14.70" height="28.80" fill="#fff" stroke="#111" stroke-width="1.2"/>
<rect x="335.90" y="149.68" width="14.70" height="13.32" fill="#111" stroke="#111" stroke-width="1.2"/>
<line x1="328.85" y1="126.8" x2="328.85" y2="141.2" stroke="#111" stroke-width="1.1"/>
<line x1="326.65000000000003" y1="126.8" x2="331.05" y2="126.8" stroke="#111" stroke-width="1.1"/>
<line x1="326.65000000000003" y1="141.2" x2="331.05" y2="141.2" stroke="#111" stroke-width="1.1"/>
<line x1="343.25" y1="147.0" x2="343.25" y2="149.68" stroke="#111" stroke-width="1.1"/>
<line x1="341.05" y1="147.0" x2="345.45" y2="147.0" stroke="#111" stroke-width="1.1"/>
<text x="338.7" y="182" font-size="12.5" text-anchor="middle" font-weight="normal">Cont</text>
<rect x="371.70" y="121.60" width="14.70" height="41.40" fill="#fff" stroke="#111" stroke-width="1.2"/>
<rect x="386.40" y="148.60" width="14.70" height="14.40" fill="#111" stroke="#111" stroke-width="1.2"/>
<line x1="379.35" y1="117.6" x2="379.35" y2="125.6" stroke="#111" stroke-width="1.1"/>
<line x1="377.15000000000003" y1="117.6" x2="381.55" y2="117.6" stroke="#111" stroke-width="1.1"/>
<line x1="377.15000000000003" y1="125.6" x2="381.55" y2="125.6" stroke="#111" stroke-width="1.1"/>
<line x1="393.75" y1="146.4" x2="393.75" y2="148.6" stroke="#111" stroke-width="1.1"/>
<line x1="391.55" y1="146.4" x2="395.95" y2="146.4" stroke="#111" stroke-width="1.1"/>
<text x="388.5" y="182" font-size="12.5" text-anchor="middle" font-weight="normal">Ritx</text>
<rect x="422.20" y="65.80" width="14.70" height="97.20" fill="#fff" stroke="#111" stroke-width="1.2"/>
<rect x="436.90" y="127.36" width="14.70" height="35.64" fill="#111" stroke="#111" stroke-width="1.2"/>
<line x1="429.85" y1="51.8" x2="429.85" y2="80.5" stroke="#111" stroke-width="1.1"/>
<line x1="427.65000000000003" y1="51.8" x2="432.05" y2="51.8" stroke="#111" stroke-width="1.1"/>
<line x1="427.65000000000003" y1="80.5" x2="432.05" y2="80.5" stroke="#111" stroke-width="1.1"/>
<line x1="444.25" y1="121.3" x2="444.25" y2="127.36" stroke="#111" stroke-width="1.1"/>
<line x1="442.05" y1="121.3" x2="446.45" y2="121.3" stroke="#111" stroke-width="1.1"/>
<text x="440.0" y="182" font-size="12.5" text-anchor="middle" font-weight="normal">Tos</text>
<rect x="472.50" y="47.80" width="14.70" height="115.20" fill="#fff" stroke="#111" stroke-width="1.2"/>
<rect x="487.20" y="118.36" width="14.70" height="44.64" fill="#111" stroke="#111" stroke-width="1.2"/>
<line x1="480.15000000000003" y1="36.8" x2="480.15000000000003" y2="58.0" stroke="#111" stroke-width="1.1"/>
<line x1="477.95000000000005" y1="36.8" x2="482.35" y2="36.8" stroke="#111" stroke-width="1.1"/>
<line x1="477.95000000000005" y1="58.0" x2="482.35" y2="58.0" stroke="#111" stroke-width="1.1"/>
<line x1="494.55" y1="109.5" x2="494.55" y2="118.36" stroke="#111" stroke-width="1.1"/>
<line x1="492.35" y1="109.5" x2="496.75" y2="109.5" stroke="#111" stroke-width="1.1"/>
<text x="492.4" y="182" font-size="12.5" text-anchor="middle" font-weight="normal">GA101</text>
<line x1="46.3" y1="260.8" x2="46.3" y2="414.2" stroke="#111" stroke-width="1.5"/>
<line x1="45.599999999999994" y1="412.7" x2="259.5" y2="412.7" stroke="#111" stroke-width="1.5"/>
<clipPath id="c80"><rect x="20" y="255.95" width="30" height="20"/></clipPath>
<line x1="43.9" y1="412.5" x2="46.3" y2="412.5" stroke="#111" stroke-width="1.1"/>
<text x="39.6" y="417.5" font-size="12.4" text-anchor="end" font-weight="normal">0</text>
<line x1="43.9" y1="393.5" x2="46.3" y2="393.5" stroke="#111" stroke-width="1.1"/>
<text x="42.4" y="398.5" font-size="12.4" text-anchor="end" font-weight="normal">10</text>
<line x1="43.9" y1="374.6" x2="46.3" y2="374.6" stroke="#111" stroke-width="1.1"/>
<text x="42.4" y="379.6" font-size="12.4" text-anchor="end" font-weight="normal">20</text>
<line x1="43.9" y1="355.8" x2="46.3" y2="355.8" stroke="#111" stroke-width="1.1"/>
<text x="42.4" y="360.8" font-size="12.4" text-anchor="end" font-weight="normal">30</text>
<line x1="43.9" y1="337" x2="46.3" y2="337" stroke="#111" stroke-width="1.1"/>
<text x="42.4" y="342.0" font-size="12.4" text-anchor="end" font-weight="normal">40</text>
<line x1="43.9" y1="317.8" x2="46.3" y2="317.8" stroke="#111" stroke-width="1.1"/>
<text x="42.4" y="322.8" font-size="12.4" text-anchor="end" font-weight="normal">50</text>
<line x1="43.9" y1="298.6" x2="46.3" y2="298.6" stroke="#111" stroke-width="1.1"/>
<text x="42.4" y="303.6" font-size="12.4" text-anchor="end" font-weight="normal">60</text>
<line x1="43.9" y1="283" x2="46.3" y2="283" stroke="#111" stroke-width="1.1"/>
<text x="42.4" y="288.0" font-size="12.4" text-anchor="end" font-weight="normal">70</text>
<line x1="43.9" y1="260.9" x2="46.3" y2="260.9" stroke="#111" stroke-width="1.1"/>
<g clip-path="url(#c80)"><text x="42.4" y="266" font-size="12.4" text-anchor="end" transform="translate(0 266) scale(1 1.26) translate(0 -266)">80</text></g>
<line x1="88.7" y1="412.7" x2="88.7" y2="414.9" stroke="#111" stroke-width="1.1"/>
<line x1="131.3" y1="412.7" x2="131.3" y2="414.9" stroke="#111" stroke-width="1.1"/>
<line x1="174.3" y1="412.7" x2="174.3" y2="414.9" stroke="#111" stroke-width="1.1"/>
<line x1="216.8" y1="412.7" x2="216.8" y2="414.9" stroke="#111" stroke-width="1.1"/>
<line x1="259.2" y1="412.7" x2="259.2" y2="414.9" stroke="#111" stroke-width="1.1"/>
<text x="22.3" y="335.6" font-size="12.7" text-anchor="middle" font-weight="normal" transform="rotate(-90 22.3 335.6)">% cell death</text>
<rect x="56.90" y="261.40" width="12.40" height="11.20" fill="#fff" stroke="#111" stroke-width="1.2"/>
<rect x="56.90" y="278.40" width="12.40" height="11.40" fill="#111" stroke="#111" stroke-width="1.2"/>
<text x="77.7" y="270.4" font-size="12.5" text-anchor="start" font-weight="normal">PBS</text>
<text x="77.7" y="287.4" font-size="12.5" text-anchor="start" font-weight="normal">Tiron</text>
<rect x="54.50" y="400.73" width="12.60" height="11.97" fill="#fff" stroke="#111" stroke-width="1.2"/>
<rect x="67.10" y="405.10" width="12.60" height="7.60" fill="#111" stroke="#111" stroke-width="1.2"/>
<line x1="60.8" y1="396.3" x2="60.8" y2="404.3" stroke="#111" stroke-width="1.1"/>
<line x1="58.599999999999994" y1="396.3" x2="63.0" y2="396.3" stroke="#111" stroke-width="1.1"/>
<line x1="58.599999999999994" y1="404.3" x2="63.0" y2="404.3" stroke="#111" stroke-width="1.1"/>
<line x1="73.4" y1="404.0" x2="73.4" y2="405.09999999999997" stroke="#111" stroke-width="1.1"/>
<line x1="71.2" y1="404.0" x2="75.60000000000001" y2="404.0" stroke="#111" stroke-width="1.1"/>
<text x="65.6" y="431.4" font-size="12.5" text-anchor="middle" font-weight="normal">Cont</text>
<rect x="97.60" y="393.89" width="12.60" height="18.81" fill="#fff" stroke="#111" stroke-width="1.2"/>
<rect x="110.20" y="398.26" width="12.60" height="14.44" fill="#111" stroke="#111" stroke-width="1.2"/>
<line x1="103.89999999999999" y1="390.8" x2="103.89999999999999" y2="395.6" stroke="#111" stroke-width="1.1"/>
<line x1="101.69999999999999" y1="390.8" x2="106.1" y2="390.8" stroke="#111" stroke-width="1.1"/>
<line x1="101.69999999999999" y1="395.6" x2="106.1" y2="395.6" stroke="#111" stroke-width="1.1"/>
<line x1="116.5" y1="393.3" x2="116.5" y2="398.26" stroke="#111" stroke-width="1.1"/>
<line x1="114.3" y1="393.3" x2="118.7" y2="393.3" stroke="#111" stroke-width="1.1"/>
<text x="111.9" y="431.4" font-size="12.5" text-anchor="middle" font-weight="normal">Ritx</text>
<rect x="139.80" y="327.77" width="12.60" height="84.93" fill="#fff" stroke="#111" stroke-width="1.2"/>
<rect x="152.40" y="379.64" width="12.60" height="33.06" fill="#111" stroke="#111" stroke-width="1.2"/>
<line x1="146.10000000000002" y1="324.3" x2="146.10000000000002" y2="331.3" stroke="#111" stroke-width="1.1"/>
<line x1="143.90000000000003" y1="324.3" x2="148.3" y2="324.3" stroke="#111" stroke-width="1.1"/>
<line x1="143.90000000000003" y1="331.3" x2="148.3" y2="331.3" stroke="#111" stroke-width="1.1"/>
<line x1="158.70000000000002" y1="372.0" x2="158.70000000000002" y2="379.64" stroke="#111" stroke-width="1.1"/>
<line x1="156.50000000000003" y1="372.0" x2="160.9" y2="372.0" stroke="#111" stroke-width="1.1"/>
<text x="156.0" y="431.4" font-size="12.5" text-anchor="middle" font-weight="normal">Tos</text>
<path d="M145.6 316.3 V312.3 Q145.6 311.3 146.6 311.3 H160.8 Q161.8 311.3 161.8 312.3 V316.3" fill="none" stroke="#111" stroke-width="1.1"/>
<text x="154.0" y="313.0" font-size="11.6" text-anchor="middle" font-weight="normal" letter-spacing="0.5" style="stroke-width:0.45px">**</text>
<rect x="182.50" y="319.60" width="12.60" height="93.10" fill="#fff" stroke="#111" stroke-width="1.2"/>
<rect x="195.10" y="377.17" width="12.60" height="35.53" fill="#111" stroke="#111" stroke-width="1.2"/>
<line x1="188.8" y1="313.8" x2="188.8" y2="325.5" stroke="#111" stroke-width="1.1"/>
<line x1="186.60000000000002" y1="313.8" x2="191.0" y2="313.8" stroke="#111" stroke-width="1.1"/>
<line x1="186.60000000000002" y1="325.5" x2="191.0" y2="325.5" stroke="#111" stroke-width="1.1"/>
<line x1="201.4" y1="369.3" x2="201.4" y2="377.17" stroke="#111" stroke-width="1.1"/>
<line x1="199.20000000000002" y1="369.3" x2="203.6" y2="369.3" stroke="#111" stroke-width="1.1"/>
<text x="196.5" y="431.4" font-size="12.5" text-anchor="middle" font-weight="normal">GA101</text>
<path d="M187.6 307.5 V303.5 Q187.6 302.5 188.6 302.5 H202.8 Q203.8 302.5 203.8 303.5 V307.5" fill="none" stroke="#111" stroke-width="1.1"/>
<text x="196.0" y="304.2" font-size="11.6" text-anchor="middle" font-weight="normal" letter-spacing="0.5" style="stroke-width:0.45px">**</text>
<rect x="224.80" y="278.37" width="12.60" height="134.33" fill="#fff" stroke="#111" stroke-width="1.2"/>
<rect x="237.40" y="347.15" width="12.60" height="65.55" fill="#111" stroke="#111" stroke-width="1.2"/>
<line x1="231.10000000000002" y1="277.2" x2="231.10000000000002" y2="278.8" stroke="#111" stroke-width="1.1"/>
<line x1="228.90000000000003" y1="277.2" x2="233.3" y2="277.2" stroke="#111" stroke-width="1.1"/>
<line x1="228.90000000000003" y1="278.8" x2="233.3" y2="278.8" stroke="#111" stroke-width="1.1"/>
<line x1="243.70000000000002" y1="340.5" x2="243.70000000000002" y2="347.15" stroke="#111" stroke-width="1.1"/>
<line x1="241.50000000000003" y1="340.5" x2="245.9" y2="340.5" stroke="#111" stroke-width="1.1"/>
<text x="239.7" y="431.4" font-size="12.5" text-anchor="middle" font-weight="normal">L243</text>
<path d="M230.6 266.3 V262.3 Q230.6 261.3 231.6 261.3 H245.8 Q246.8 261.3 246.8 262.3 V266.3" fill="none" stroke="#111" stroke-width="1.1"/>
<text x="239.0" y="263.0" font-size="11.6" text-anchor="middle" font-weight="normal" letter-spacing="0.5" style="stroke-width:0.45px">***</text>
<line x1="312.8" y1="265.5" x2="312.8" y2="435.2" stroke="#111" stroke-width="1.5"/>
<line x1="312.1" y1="406.8" x2="517.8" y2="406.8" stroke="#111" stroke-width="1.5"/>
<line x1="310.40000000000003" y1="435.05" x2="312.8" y2="435.05" stroke="#111" stroke-width="1.1"/>
<text x="308.3" y="438.65000000000003" font-size="12.3" text-anchor="end" font-weight="normal">-10</text>
<line x1="310.40000000000003" y1="406.8" x2="312.8" y2="406.8" stroke="#111" stroke-width="1.1"/>
<text x="308.3" y="411.5" font-size="12.3" text-anchor="end" font-weight="normal">0</text>
<line x1="310.40000000000003" y1="378.55" x2="312.8" y2="378.55" stroke="#111" stroke-width="1.1"/>
<text x="308.3" y="383.25" font-size="12.3" text-anchor="end" font-weight="normal">10</text>
<line x1="310.40000000000003" y1="350.3" x2="312.8" y2="350.3" stroke="#111" stroke-width="1.1"/>
<text x="308.3" y="355.0" font-size="12.3" text-anchor="end" font-weight="normal">20</text>
<line x1="310.40000000000003" y1="322.05" x2="312.8" y2="322.05" stroke="#111" stroke-width="1.1"/>
<text x="308.3" y="326.75" font-size="12.3" text-anchor="end" font-weight="normal">30</text>
<line x1="310.40000000000003" y1="293.8" x2="312.8" y2="293.8" stroke="#111" stroke-width="1.1"/>
<text x="308.3" y="298.5" font-size="12.3" text-anchor="end" font-weight="normal">40</text>
<line x1="310.40000000000003" y1="265.55" x2="312.8" y2="265.55" stroke="#111" stroke-width="1.1"/>
<text x="308.3" y="270.25" font-size="12.3" text-anchor="end" font-weight="normal">50</text>
<line x1="364.3" y1="406.8" x2="364.3" y2="410.2" stroke="#111" stroke-width="1.1"/>
<line x1="415.6" y1="406.8" x2="415.6" y2="410.2" stroke="#111" stroke-width="1.1"/>
<line x1="466.4" y1="406.8" x2="466.4" y2="410.2" stroke="#111" stroke-width="1.1"/>
<line x1="517.3" y1="406.8" x2="517.3" y2="410.2" stroke="#111" stroke-width="1.1"/>
<text x="291.4" y="398.0" font-size="13" text-anchor="start" font-weight="normal" transform="rotate(-90 291.4 398.0)">%</text>
<text x="286.5" y="383.6" font-size="8" text-anchor="start" font-weight="normal" transform="rotate(-90 286.5 383.6)">51</text>
<text x="291.4" y="375.8" font-size="12.85" text-anchor="start" font-weight="normal" transform="rotate(-90 291.4 375.8)">Cr-specific release</text>
<rect x="321.30" y="267.30" width="12.80" height="10.80" fill="#fff" stroke="#111" stroke-width="1.2"/>
<rect x="321.30" y="285.30" width="12.80" height="10.80" fill="#111" stroke="#111" stroke-width="1.2"/>
<text x="343.2" y="276.4" font-size="12.5" text-anchor="start" font-weight="normal">PBS</text>
<text x="343.2" y="293.2" font-size="12.5" text-anchor="start" font-weight="normal">Tiron</text>
<rect x="322.60" y="406.09" width="15.00" height="0.71" fill="#fff" stroke="#111" stroke-width="1.2"/>
<rect x="337.60" y="406.80" width="15.00" height="13.28" fill="#111" stroke="#111" stroke-width="1.2"/>
<text x="338.8" y="434.8" font-size="12.5" text-anchor="middle" font-weight="normal">Cont</text>
<rect x="374.50" y="387.59" width="15.00" height="19.21" fill="#fff" stroke="#111" stroke-width="1.2"/>
<rect x="389.50" y="405.11" width="15.00" height="1.69" fill="#111" stroke="#111" stroke-width="1.2"/>
<line x1="382.0" y1="386.6" x2="382.0" y2="387.6" stroke="#111" stroke-width="1.1"/>
<line x1="380.3" y1="386.6" x2="383.7" y2="386.6" stroke="#111" stroke-width="1.1"/>
<line x1="380.3" y1="387.6" x2="383.7" y2="387.6" stroke="#111" stroke-width="1.1"/>
<line x1="397.0" y1="404.3" x2="397.0" y2="405.105" stroke="#111" stroke-width="1.1"/>
<line x1="395.3" y1="404.3" x2="398.7" y2="404.3" stroke="#111" stroke-width="1.1"/>
<text x="390.5" y="434.8" font-size="12.5" text-anchor="middle" font-weight="normal">Ritx</text>
<rect x="425.70" y="285.04" width="15.00" height="121.76" fill="#fff" stroke="#111" stroke-width="1.2"/>
<rect x="440.70" y="357.93" width="15.00" height="48.87" fill="#111" stroke="#111" stroke-width="1.2"/>
<line x1="433.2" y1="283.3" x2="433.2" y2="287.0" stroke="#111" stroke-width="1.1"/>
<line x1="431.5" y1="283.3" x2="434.9" y2="283.3" stroke="#111" stroke-width="1.1"/>
<line x1="431.5" y1="287.0" x2="434.9" y2="287.0" stroke="#111" stroke-width="1.1"/>
<line x1="448.2" y1="357.0" x2="448.2" y2="357.9275" stroke="#111" stroke-width="1.1"/>
<line x1="446.5" y1="357.0" x2="449.9" y2="357.0" stroke="#111" stroke-width="1.1"/>
<text x="443.4" y="434.8" font-size="12.5" text-anchor="middle" font-weight="normal">Tos</text>
<path d="M431.8 274.3 V270.3 Q431.8 269.3 432.8 269.3 H446.5 Q447.5 269.3 447.5 270.3 V274.3" fill="none" stroke="#111" stroke-width="1.1"/>
<text x="439.95" y="271.0" font-size="11.6" text-anchor="middle" font-weight="normal" letter-spacing="0.5" style="stroke-width:0.45px">***</text>
<rect x="476.80" y="277.42" width="15.00" height="129.38" fill="#fff" stroke="#111" stroke-width="1.2"/>
<rect x="491.80" y="344.09" width="15.00" height="62.71" fill="#111" stroke="#111" stroke-width="1.2"/>
<line x1="484.3" y1="275.5" x2="484.3" y2="279.5" stroke="#111" stroke-width="1.1"/>
<line x1="482.6" y1="275.5" x2="486.0" y2="275.5" stroke="#111" stroke-width="1.1"/>
<line x1="482.6" y1="279.5" x2="486.0" y2="279.5" stroke="#111" stroke-width="1.1"/>
<line x1="499.3" y1="343.4" x2="499.3" y2="344.08500000000004" stroke="#111" stroke-width="1.1"/>
<line x1="497.6" y1="343.4" x2="501.0" y2="343.4" stroke="#111" stroke-width="1.1"/>
<text x="495.6" y="434.8" font-size="12.5" text-anchor="middle" font-weight="normal">GA101</text>
<path d="M482.5 269.3 V265.3 Q482.5 264.3 483.5 264.3 H497.7 Q498.7 264.3 498.7 265.3 V269.3" fill="none" stroke="#111" stroke-width="1.1"/>
<text x="490.90000000000003" y="266.0" font-size="11.6" text-anchor="middle" font-weight="normal" letter-spacing="0.5" style="stroke-width:0.45px">***</text>
</svg>
</body>
</html>
